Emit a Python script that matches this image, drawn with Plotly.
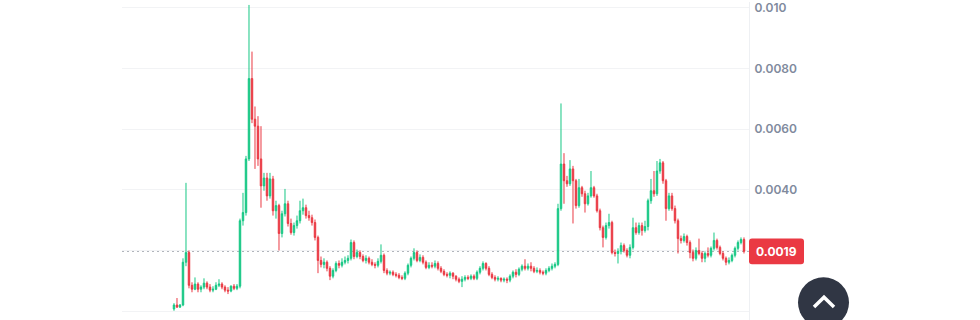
import plotly.graph_objects as go

# ---- data (price) ----
first_open = 0.00007
close = [0.00020,0.00013,0.00020,0.00161,0.00193,0.00085,0.00072,0.00089,0.00072,0.00079,
         0.00092,0.00079,0.00069,0.00072,0.00085,0.00089,0.00079,0.00069,0.00066,0.00082,
         0.00075,0.00082,0.00298,0.00325,0.00502,0.00767,0.00633,0.00610,0.00502,0.00413,
         0.00439,0.00380,0.00436,0.00331,0.00348,0.00256,0.00321,0.00354,0.00289,0.00259,
         0.00282,0.00298,0.00331,0.00341,0.00315,0.00308,0.00292,0.00243,0.00167,0.00154,
         0.00161,0.00141,0.00115,0.00134,0.00157,0.00151,0.00161,0.00167,0.00174,0.00226,
         0.00180,0.00193,0.00180,0.00167,0.00174,0.00161,0.00154,0.00151,0.00164,0.00184,
         0.00134,0.00125,0.00128,0.00121,0.00118,0.00111,0.00108,0.00125,0.00151,0.00174,
         0.00193,0.00167,0.00177,0.00161,0.00144,0.00151,0.00148,0.00157,0.00141,0.00131,
         0.00121,0.00118,0.00125,0.00115,0.00105,0.00098,0.00105,0.00111,0.00108,0.00115,
         0.00108,0.00128,0.00141,0.00157,0.00141,0.00121,0.00111,0.00105,0.00108,0.00102,
         0.00105,0.00102,0.00115,0.00128,0.00121,0.00138,0.00148,0.00141,0.00148,0.00141,
         0.00131,0.00134,0.00128,0.00125,0.00134,0.00141,0.00148,0.00154,0.00338,0.00485,
         0.00430,0.00420,0.00469,0.00430,0.00348,0.00407,0.00387,0.00354,0.00380,0.00407,
         0.00380,0.00331,0.00275,0.00243,0.00282,0.00292,0.00193,0.00190,0.00197,0.00216,
         0.00200,0.00184,0.00210,0.00275,0.00259,0.00282,0.00266,0.00279,0.00364,0.00397,
         0.00387,0.00462,0.00489,0.00430,0.00338,0.00380,0.00338,0.00298,0.00239,0.00233,
         0.00246,0.00226,0.00193,0.00174,0.00200,0.00190,0.00174,0.00190,0.00184,0.00207,
         0.00233,0.00210,0.00190,0.00174,0.00161,0.00167,0.00184,0.00207,0.00226,0.00236,
         0.00197]
high = [0.00026,0.00043,0.00023,0.00174,0.00423,0.00200,0.00095,0.00111,0.00095,0.00085,
        0.00108,0.00098,0.00089,0.00082,0.00095,0.00105,0.00095,0.00085,0.00079,0.00085,
        0.00089,0.00089,0.00305,0.00390,0.00512,0.01010,0.00856,0.00675,0.00643,0.00610,
        0.00456,0.00456,0.00456,0.00446,0.00364,0.00354,0.00331,0.00403,0.00364,0.00305,
        0.00292,0.00315,0.00364,0.00371,0.00351,0.00331,0.00318,0.00302,0.00249,0.00180,
        0.00174,0.00167,0.00148,0.00141,0.00164,0.00167,0.00174,0.00180,0.00184,0.00236,
        0.00233,0.00203,0.00200,0.00187,0.00184,0.00180,0.00171,0.00161,0.00174,0.00220,
        0.00190,0.00141,0.00134,0.00134,0.00128,0.00125,0.00118,0.00131,0.00157,0.00180,
        0.00207,0.00200,0.00187,0.00184,0.00167,0.00161,0.00161,0.00167,0.00164,0.00148,
        0.00138,0.00128,0.00131,0.00128,0.00118,0.00111,0.00115,0.00118,0.00118,0.00121,
        0.00121,0.00134,0.00148,0.00164,0.00161,0.00148,0.00128,0.00118,0.00115,0.00111,
        0.00111,0.00111,0.00121,0.00134,0.00138,0.00144,0.00154,0.00171,0.00157,0.00161,
        0.00148,0.00144,0.00141,0.00134,0.00141,0.00148,0.00157,0.00161,0.00354,0.00685,
        0.00521,0.00446,0.00498,0.00479,0.00436,0.00436,0.00413,0.00397,0.00390,0.00462,
        0.00413,0.00387,0.00338,0.00282,0.00292,0.00321,0.00298,0.00203,0.00207,0.00226,
        0.00223,0.00207,0.00220,0.00308,0.00292,0.00292,0.00292,0.00298,0.00371,0.00436,
        0.00462,0.00495,0.00502,0.00495,0.00436,0.00390,0.00390,0.00348,0.00305,0.00249,
        0.00256,0.00252,0.00233,0.00203,0.00210,0.00239,0.00197,0.00197,0.00210,0.00213,
        0.00259,0.00239,0.00216,0.00197,0.00180,0.00177,0.00190,0.00213,0.00233,0.00243,
        0.00243]
low = [0.00001,0.00010,0.00010,0.00016,0.00148,0.00075,0.00062,0.00069,0.00062,0.00062,
       0.00072,0.00072,0.00062,0.00062,0.00069,0.00079,0.00072,0.00062,0.00056,0.00062,
       0.00069,0.00069,0.00075,0.00282,0.00315,0.00495,0.00620,0.00469,0.00479,0.00341,
       0.00397,0.00364,0.00371,0.00315,0.00305,0.00200,0.00243,0.00312,0.00279,0.00252,
       0.00249,0.00272,0.00289,0.00318,0.00305,0.00298,0.00282,0.00233,0.00125,0.00144,
       0.00141,0.00131,0.00102,0.00108,0.00128,0.00141,0.00144,0.00154,0.00157,0.00167,
       0.00171,0.00174,0.00171,0.00161,0.00157,0.00154,0.00148,0.00141,0.00144,0.00157,
       0.00125,0.00118,0.00118,0.00115,0.00111,0.00105,0.00102,0.00102,0.00118,0.00144,
       0.00167,0.00161,0.00161,0.00154,0.00138,0.00138,0.00141,0.00141,0.00134,0.00125,
       0.00115,0.00111,0.00108,0.00105,0.00098,0.00092,0.00079,0.00098,0.00102,0.00102,
       0.00102,0.00102,0.00121,0.00134,0.00134,0.00115,0.00105,0.00098,0.00098,0.00095,
       0.00095,0.00092,0.00095,0.00108,0.00111,0.00115,0.00131,0.00134,0.00134,0.00131,
       0.00125,0.00125,0.00121,0.00118,0.00118,0.00128,0.00134,0.00141,0.00148,0.00331,
       0.00354,0.00410,0.00413,0.00289,0.00338,0.00341,0.00377,0.00325,0.00348,0.00374,
       0.00374,0.00325,0.00266,0.00210,0.00236,0.00272,0.00187,0.00180,0.00157,0.00187,
       0.00193,0.00177,0.00174,0.00203,0.00252,0.00252,0.00249,0.00259,0.00266,0.00354,
       0.00377,0.00380,0.00453,0.00420,0.00298,0.00331,0.00331,0.00289,0.00190,0.00223,
       0.00226,0.00216,0.00174,0.00164,0.00167,0.00184,0.00161,0.00161,0.00177,0.00177,
       0.00200,0.00203,0.00184,0.00167,0.00151,0.00154,0.00161,0.00177,0.00200,0.00220,
       0.00190]
open_ = [first_open] + close[:-1]
x = list(range(len(close)))

tick_vals = [0.0, 0.002, 0.004, 0.006, 0.008, 0.010]
tick_text = ["", "", "0.0040", "0.0060", "0.0080", "0.010"]
price_label = "0.0019"

GREEN = "#16c784"
RED = "#ea3943"

fig = go.Figure(go.Candlestick(
    x=x, open=open_, high=high, low=low, close=close,
    increasing=dict(line=dict(color=GREEN, width=1), fillcolor=GREEN),
    decreasing=dict(line=dict(color=RED, width=1), fillcolor=RED),
    whiskerwidth=0, hoverinfo="skip",
))

ymin, ymax = -0.000295, 0.010197
n = len(close)
fig.update_layout(
    width=980, height=320,
    margin=dict(l=122, r=231, t=0, b=0),
    paper_bgcolor="white", plot_bgcolor="white",
    showlegend=False,
    xaxis=dict(range=[-17.33, n - 1 + 1.67], visible=False,
               rangeslider=dict(visible=False), showgrid=False),
    yaxis=dict(range=[ymin, ymax], side="right", tickvals=tick_vals, ticktext=tick_text,
               showgrid=True, gridcolor="#f2f3f5", gridwidth=1, zeroline=False,
               showline=True, linecolor="#eef0f3", linewidth=1,
               ticks="", ticklabelstandoff=2, ticklabeloverflow="allow",
               tickfont=dict(family="Inter", size=12, color="#808a9d", weight=600)),
)

# last price dotted line
last = close[-1]
fig.add_shape(type="line", xref="paper", yref="y", x0=0, x1=1, y0=last, y1=last,
              line=dict(color="#a3a8b0", width=1, dash="2px,3px"), layer="below")

# price label box (rounded) in paper coords
W, H = 980 - 122 - 231, 320
cy = (last - ymin) / (ymax - ymin)
bx0, bx1 = 1.0, 1 + 55 / W
by0, by1 = cy - 13 / H, cy + 13 / H
rx, ry = 3 / W, 3 / H
path = (f"M{bx0+rx},{by0} L{bx1-rx},{by0} Q{bx1},{by0} {bx1},{by0+ry} "
        f"L{bx1},{by1-ry} Q{bx1},{by1} {bx1-rx},{by1} L{bx0+rx},{by1} "
        f"Q{bx0},{by1} {bx0},{by1-ry} L{bx0},{by0+ry} Q{bx0},{by0} {bx0+rx},{by0} Z")
fig.add_shape(type="path", xref="paper", yref="paper", path=path,
              fillcolor=RED, line=dict(width=0))
fig.add_annotation(xref="paper", yref="paper", x=1 + 27.5 / W, y=cy, text=price_label,
                   showarrow=False, xanchor="center", yanchor="middle",
                   font=dict(family="Inter", size=12, color="white", weight=700))

# scroll-to-top button
def px(v):
    return (v - 122) / W
def py(v):
    return (320 - v) / H
fig.add_shape(type="circle", xref="paper", yref="paper",
              x0=px(798), x1=px(849), y0=py(328), y1=py(277),
              fillcolor="#303644", line=dict(width=0))
fig.add_shape(type="path", xref="paper", yref="paper",
              path=f"M{px(814)},{py(307)} L{px(824)},{py(297)} L{px(834)},{py(307)}",
              line=dict(color="white", width=3.5))

fig.write_html("out.html")
